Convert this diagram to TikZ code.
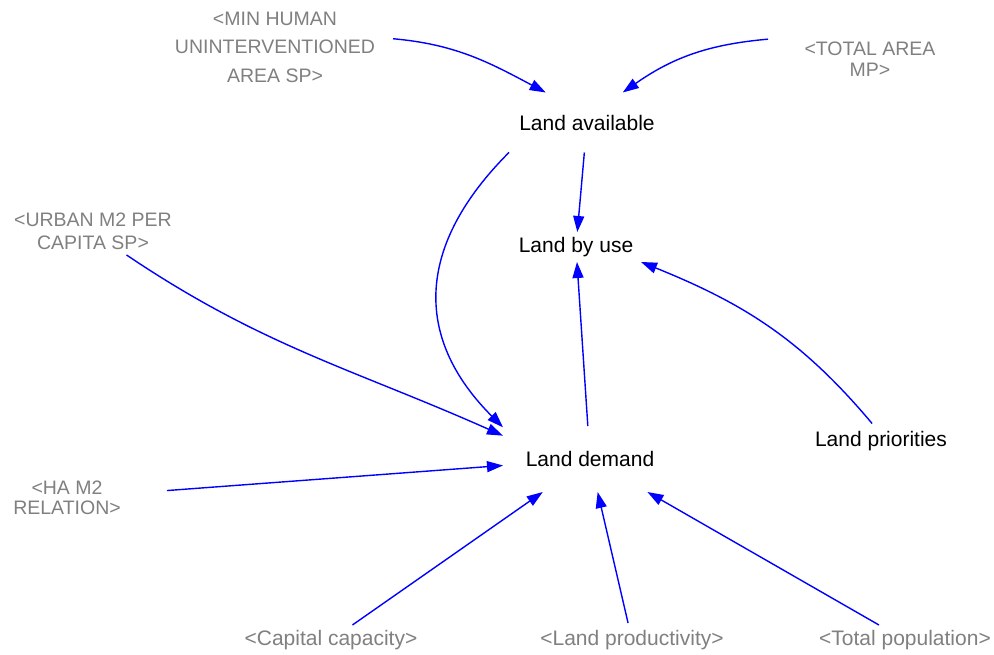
\documentclass[tikz,border=0pt]{standalone}
\usepackage{fontspec}
\setmainfont{Liberation Sans}
\usetikzlibrary{arrows.meta}
\definecolor{linkblue}{RGB}{0,0,255}
\definecolor{shadowgray}{RGB}{128,128,128}

\begin{document}
\begin{tikzpicture}[x=1pt,y=1pt,
  var/.style={font=\fontsize{21}{25}\selectfont, text=black,
    inner sep=0pt, outer sep=0pt},
  shadow/.style={font=\fontsize{21}{25}\selectfont, text=shadowgray,
    inner sep=0pt, outer sep=0pt, align=center},
  shadowcaps/.style={shadow, font=\fontsize{19.5}{#1}\selectfont},
  box/.style 2 args={minimum width=#1, minimum height=#2},
  link/.style={draw=linkblue, line width=1.4pt,
    -{Triangle[length=16pt,width=11pt]}}
]
\useasboundingbox (0,0) rectangle (994,654);
\fill[white] (0,0) rectangle (994,654);

% model variables
\node[var, box={156pt}{60pt}] (la) at (587,531.5) {Land available};
\node[var, box={134pt}{30pt}] (lu) at (576,407) {Land by use};
\node[var, box={174pt}{66pt}] (ld) at (590,195) {Land demand};
\node[var, box={140pt}{35pt}] (lp) at (881,213) {Land priorities};

% shadow variables
\node[shadowcaps=28.5, box={236pt}{90pt}] (mh) at (275,607)
  {<MIN HUMAN\\UNINTERVENTIONED\\AREA SP>};
\node[shadowcaps=21, box={204pt}{50pt}] (ta) at (870,595)
  {<TOTAL AREA\\MP>};
\node[shadowcaps=23, box={164pt}{47pt}] (ur) at (93,422.5)
  {<URBAN M2 PER\\CAPITA SP>};
\node[shadowcaps=20.5, box={200pt}{40pt}] (ha) at (67,156)
  {<HA M2\\RELATION>};
\node[shadow, box={180pt}{30pt}] (cc) at (331,14) {<Capital capacity>};
\node[shadow, box={192pt}{34pt}] (lpr) at (632,14) {<Land productivity>};
\node[shadow, box={174pt}{30pt}] (tp) at (905,14) {<Total population>};

% causal links
\draw[link] (mh.4) to[out=-5, in=152] (la.144);
\draw[link] (ta.169) to[out=185, in=35] (la.40);
\draw[link] (la) -- (lu);
\draw[link] (la.201) to[out=225, in=135, looseness=1.2] (ld.160);
\draw[link] (ur.-35) to[out=-34, in=156] (ld.165);
\draw[link] (ha) -- (ld);
\draw[link] (cc) -- (ld);
\draw[link] (lpr) -- (ld);
\draw[link] (tp) -- (ld);
\draw[link] (ld) -- (lu);
\draw[link] (lp.117) to[out=130, in=-22] (lu.-13);
\end{tikzpicture}
\end{document}
